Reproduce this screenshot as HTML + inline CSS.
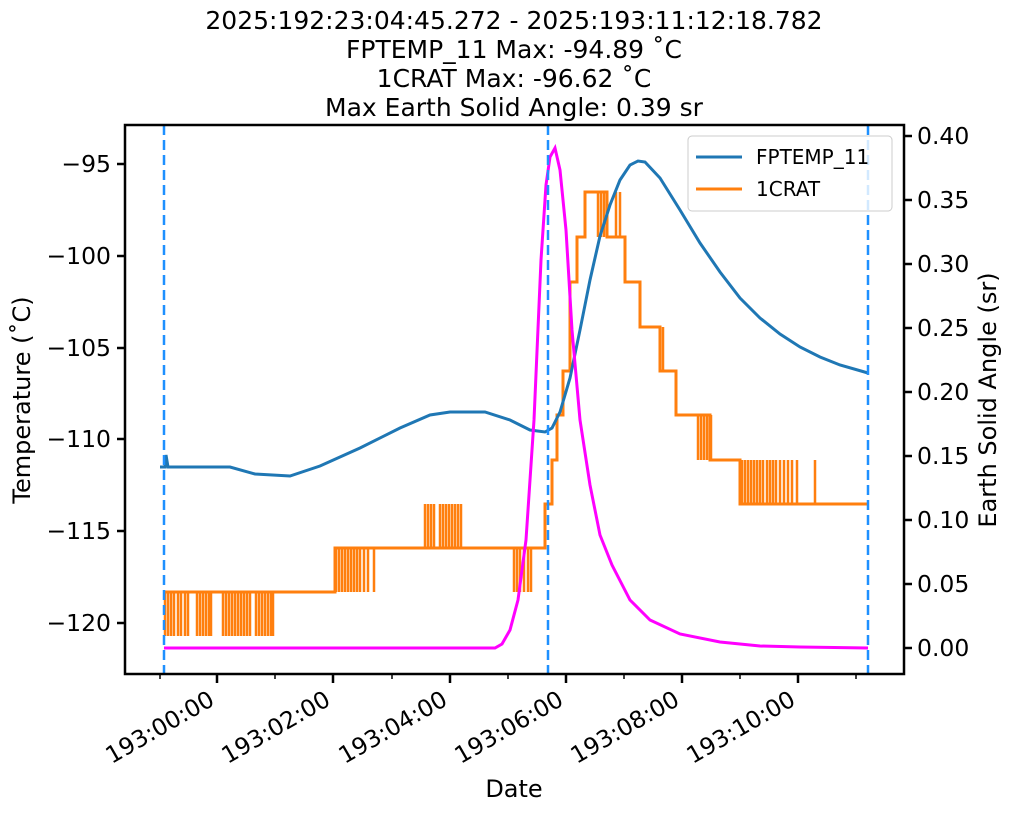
<!DOCTYPE html><html><head><style>body{margin:0;background:#fff}svg text{font-family:"DejaVu Sans","Liberation Sans",sans-serif;fill:#000}</style></head><body>
<svg width="1011" height="811" viewBox="0 0 1011 811" xmlns="http://www.w3.org/2000/svg">
<g font-size="25" text-anchor="middle">
<text x="514" y="29">2025:192:23:04:45.272 - 2025:193:11:12:18.782</text>
<text x="514" y="58">FPTEMP_11 Max: -94.89 ˚C</text>
<text x="514" y="87">1CRAT Max: -96.62 ˚C</text>
<text x="514" y="116">Max Earth Solid Angle: 0.39 sr</text>
</g>
<defs><clipPath id="c"><rect x="125" y="125" width="779" height="549"/></clipPath></defs>
<g clip-path="url(#c)" fill="none" stroke-width="3">
<path stroke="#ff7f0e" d="M164,592 L335,592 L335,548 L545,548 L545,504 L552,504 L552,460 L557,460 L557,415 L563,415 L563,371 L570,371 L570,282 L577,282 L577,237 L585,237 L585,192 L607,192 L607,237 L625,237 L625,282 L640,282 L640,327 L660,327 L660,371 L676,371 L676,415 L710,415 L710,460 L740,460 L740,504 L868,504"/>
<g stroke="#ff7f0e" stroke-width="2.5">
<path d="M165,592V636M168,592V636M171,592V636M174,592V636M178,592V636M181,592V636M185,592V636M188,592V636M197,592V636M200,592V636M203,592V636M206,592V636M209,592V636M211,592V636M223,592V636M226,592V636M229,592V636M232,592V636M235,592V636M238,592V636M241,592V636M244,592V636M247,592V636M250,592V636M256,592V636M259,592V636M262,592V636M265,592V636M268,592V636M271,592V636M273,592V636"/>
<path d="M336,548V592M339,548V592M342,548V592M345,548V592M348,548V592M351,548V592M354,548V592M357,548V592M360,548V592M364,548V592M368,548V592M374,548V592"/>
<path d="M425,548V504M428,548V504M431,548V504M434,548V504M440,548V504M443,548V504M446,548V504M449,548V504M452,548V504M455,548V504M458,548V504M461,548V504"/>
<path d="M514,548V592M517,548V592M520,548V592M524,548V592M528,548V592M531,548V592"/>
<path d="M598,192V237M601,192V237M604,192V237M616,192V237M620,192V237M660,327V371M663,327V371M698,415V460M701,415V460M704,415V460M707,415V460M711,415V460"/>
<path d="M742,460V504M745,460V504M748,460V504M751,460V504M754,460V504M757,460V504M760,460V504M763,460V504M767,460V504M770,460V504M773,460V504M776,460V504M780,460V504M784,460V504M788,460V504M792,460V504M797,460V504M815,460V504"/>
</g>
<path stroke="#1f77b4" d="M160,467 L165,467 L166,455 L168,467 L230,467 L255,474 L290,476 L320,466 L360,448 L400,428 L430,415 L450,412 L485,412 L510,420 L530,430 L545,432 L552,428 L560,412 L570,378 L580,330 L590,280 L600,236 L610,205 L620,180 L630,165 L638,161 L645,162 L660,178 L680,210 L700,243 L720,272 L740,298 L760,318 L780,334 L800,347 L820,357 L840,365 L868,373"/>
<path stroke="#ff00ff" d="M164,648 L495,648 L502,644 L510,630 L518,600 L526,540 L534,420 L541,260 L546,185 L550,157 L555,148 L560,170 L566,230 L572,330 L580,420 L590,485 L600,535 L612,565 L630,600 L650,620 L680,634 L720,642 L760,646 L800,647 L868,648"/>
</g>
<g stroke="#1e90ff" stroke-width="2.5" stroke-dasharray="10,5"><path d="M164,125V674M548,125V674M868,125V674"/></g>
<rect x="125" y="125" width="779" height="549" fill="none" stroke="#000" stroke-width="2.5"/>
<g stroke="#000" stroke-width="2.5">
<path d="M125,164h-8M125,256h-8M125,348h-8M125,439h-8M125,531h-8M125,623h-8"/>
<path d="M904,136h8M904,200h8M904,264h8M904,328h8M904,392h8M904,456h8M904,520h8M904,584h8M904,648h8"/>
<path d="M217,674v9M333,674v9M450,674v9M566,674v9M682,674v9M798,674v9"/>
</g>
<g stroke="#000" stroke-width="1.5"><path d="M160,674v5M275,674v5M392,674v5M508,674v5M624,674v5M740,674v5M856,674v5"/></g>
<g font-size="23.5" text-anchor="end">
<text x="111" y="172">−95</text><text x="111" y="264">−100</text><text x="111" y="356">−105</text><text x="111" y="447">−110</text><text x="111" y="539">−115</text><text x="111" y="631">−120</text>
</g>
<g font-size="23.5">
<text x="917" y="144">0.40</text><text x="917" y="208">0.35</text><text x="917" y="272">0.30</text><text x="917" y="336">0.25</text><text x="917" y="400">0.20</text><text x="917" y="464">0.15</text><text x="917" y="528">0.10</text><text x="917" y="592">0.05</text><text x="917" y="656">0.00</text>
</g>
<g font-size="23.5" text-anchor="end">
<text transform="translate(216,704) rotate(-30)">193:00:00</text>
<text transform="translate(332,704) rotate(-30)">193:02:00</text>
<text transform="translate(449,704) rotate(-30)">193:04:00</text>
<text transform="translate(565,704) rotate(-30)">193:06:00</text>
<text transform="translate(681,704) rotate(-30)">193:08:00</text>
<text transform="translate(797,704) rotate(-30)">193:10:00</text>
</g>
<text x="514" y="797" font-size="24" text-anchor="middle">Date</text>
<text transform="translate(30,400) rotate(-90)" font-size="24" text-anchor="middle">Temperature (˚C)</text>
<text transform="translate(996,400) rotate(-90)" font-size="24" text-anchor="middle">Earth Solid Angle (sr)</text>
<rect x="688" y="136" width="204" height="75" rx="4" fill="#fff" fill-opacity="0.8" stroke="#ccc" stroke-width="1"/>
<path d="M696,157h46" stroke="#1f77b4" stroke-width="3"/>
<path d="M696,189h46" stroke="#ff7f0e" stroke-width="3"/>
<text x="756" y="164" font-size="20">FPTEMP_11</text>
<text x="756" y="196" font-size="20">1CRAT</text>
</svg></body></html>
